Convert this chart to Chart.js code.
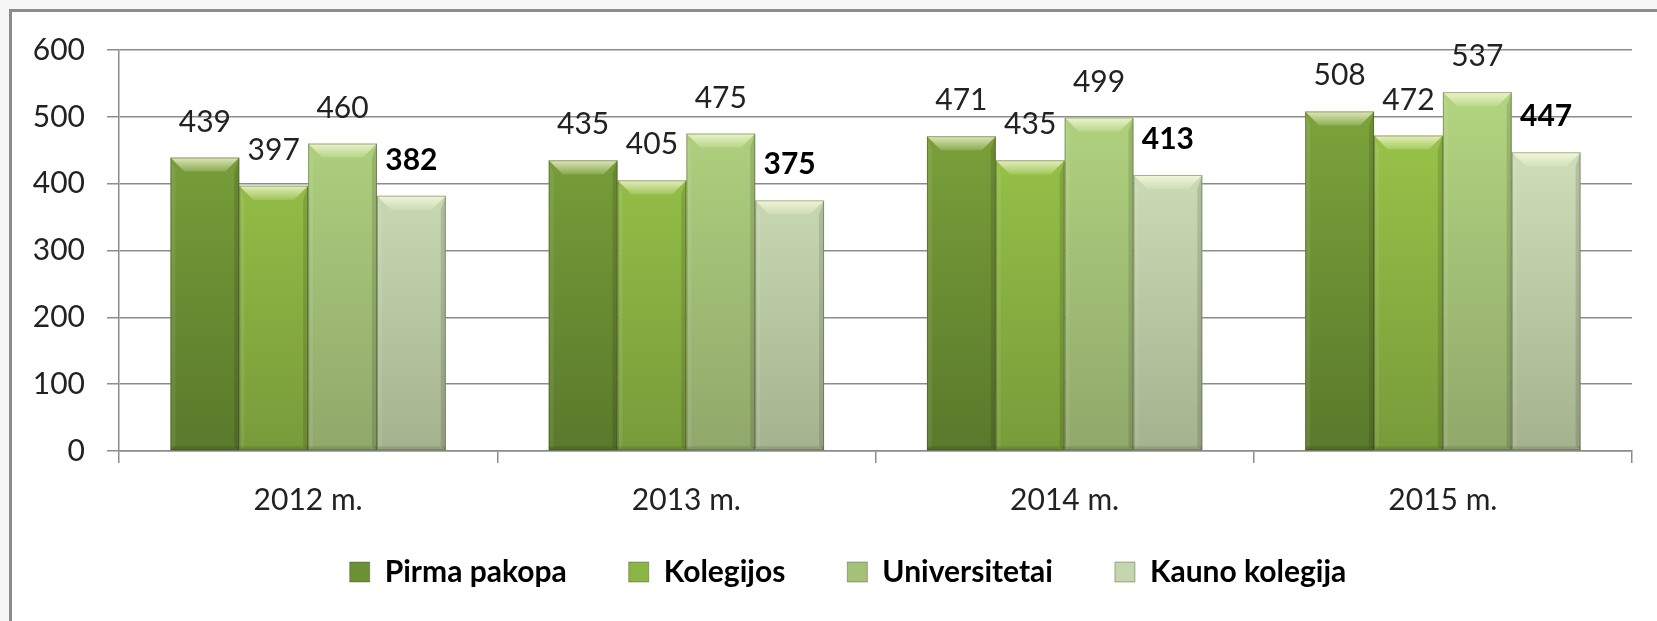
<!DOCTYPE html>
<html>
<head>
<meta charset="utf-8">
<script src="https://cdn.jsdelivr.net/npm/chart.js@4.4.1/dist/chart.umd.min.js"></script>
<style>
  html, body { margin: 0; padding: 0; background: #f6f6f6; }
  #wrap { position: relative; width: 1657px; height: 621px; overflow: hidden; background: #f6f6f6; }
  #frame { position: absolute; left: 9px; top: 9px; width: 1700px; height: 700px; background: #ffffff;
           border-left: 3px solid #8c8c8c; border-top: 3px solid #8c8c8c; box-sizing: border-box; }
  #c { position: absolute; left: 0; top: 0; }
</style>
</head>
<body>
<div id="wrap">
  <div id="frame"></div>
  <canvas id="c" width="1657" height="621"></canvas>
</div>
<script>
// ---- data ----
const categories = ["2012 m.", "2013 m.", "2014 m.", "2015 m."];
const seriesNames = ["Pirma pakopa", "Kolegijos", "Universitetai", "Kauno kolegija"];
const pirmaPakopa = [439, 435, 471, 508];
const kolegijos = [397, 405, 435, 472];
const universitetai = [460, 475, 499, 537];
const kaunoKolegija = [382, 375, 413, 447];
const yTicks = [0, 100, 200, 300, 400, 500, 600];

const seriesValues = [pirmaPakopa, kolegijos, universitetai, kaunoKolegija];
const topColors = ["#7ea53c", "#9cc84a", "#b2d57f", "#d6e7c2"];
const bottomColors = ["#5a792b", "#789b3a", "#90a86b", "#a4b38e"];
const midColors = ["#6c9134", "#8ab443", "#a3c277", "#c4d6ad"];
const boldLabel = [false, false, false, true];

const FONT = "Lato, 'Open Sans', sans-serif";

function gradFor(i) {
  return function (ctx) {
    const chart = ctx.chart;
    const area = chart.chartArea;
    if (!area) return midColors[i];
    const g = chart.ctx.createLinearGradient(0, area.top + 40, 0, area.bottom);
    g.addColorStop(0, topColors[i]);
    g.addColorStop(1, bottomColors[i]);
    return g;
  };
}

const bevelPlugin = {
  id: 'bevel',
  afterDatasetsDraw(chart) {
    const ctx = chart.ctx;
    chart.data.datasets.forEach((ds, di) => {
      const meta = chart.getDatasetMeta(di);
      meta.data.forEach(el => {
        const L = el.x - el.width / 2, R = el.x + el.width / 2;
        const T = el.y, B = el.base;
        const b = 14;
        ctx.save();
        let g = ctx.createLinearGradient(0, T, 0, T + b);
        g.addColorStop(0, 'rgba(255,255,230,0.75)');
        g.addColorStop(1, 'rgba(255,255,220,0.15)');
        ctx.fillStyle = g;
        ctx.beginPath();
        ctx.moveTo(L, T); ctx.lineTo(R, T); ctx.lineTo(R - b, T + b); ctx.lineTo(L + b, T + b); ctx.closePath();
        ctx.fill();
        ctx.fillStyle = 'rgba(255,255,255,0.08)';
        ctx.beginPath();
        ctx.moveTo(L, T); ctx.lineTo(L + 5, T + b); ctx.lineTo(L + 5, B - 4); ctx.lineTo(L, B); ctx.closePath();
        ctx.fill();
        ctx.fillStyle = 'rgba(0,0,0,0.12)';
        ctx.beginPath();
        ctx.moveTo(R, T); ctx.lineTo(R - 5, T + b); ctx.lineTo(R - 5, B - 4); ctx.lineTo(R, B); ctx.closePath();
        ctx.fill();
        ctx.fillStyle = 'rgba(0,0,0,0.10)';
        ctx.fillRect(L, B - 4, R - L, 4);
        ctx.strokeStyle = 'rgba(40,50,20,0.35)';
        ctx.lineWidth = 1;
        ctx.strokeRect(L + 0.5, T + 0.5, R - L - 1, B - T - 1);
        ctx.restore();
      });
    });
  }
};

const labelPlugin = {
  id: 'valueLabels',
  afterDatasetsDraw(chart) {
    const ctx = chart.ctx;
    chart.data.datasets.forEach((ds, di) => {
      const meta = chart.getDatasetMeta(di);
      meta.data.forEach((el, i) => {
        ctx.save();
        ctx.font = (boldLabel[di] ? 'bold ' : '') + '30px ' + FONT;
        ctx.fillStyle = boldLabel[di] ? '#000000' : '#222222';
        ctx.textAlign = 'center';
        ctx.textBaseline = 'alphabetic';
        ctx.fillText(String(ds.data[i]), el.x, el.y - 26);
        ctx.restore();
      });
    });
  }
};

// Legend padding also adds vertical room; let the x-axis label area overlap it,
// and nudge the legend row right to match the reference's centring.
const layoutTweak = {
  id: 'layoutTweak',
  afterLayout(chart) {
    const lg = chart.legend;
    if (lg) { lg.left += 32; lg.right += 32; }
    const x = chart.scales.x;
    x.bottom += 60; x.height += 60;
  }
};

const datasets = seriesNames.map((name, i) => ({
  label: name,
  data: seriesValues[i],
  backgroundColor: gradFor(i),
  borderWidth: 0,
  categoryPercentage: 0.728,
  barPercentage: 1.0
}));

new Chart(document.getElementById('c'), {
  type: 'bar',
  data: { labels: categories, datasets },
  options: {
    responsive: false,
    animation: false,
    layout: { padding: { top: 50, right: 25, bottom: 24, left: 0 } },
    plugins: {
      tooltip: { enabled: false },
      legend: {
        position: 'bottom',
        labels: {
          font: { family: FONT, size: 30, weight: 'bold' },
          color: '#000000',
          boxWidth: 20,
          boxHeight: 20,
          padding: 62,
          generateLabels(chart) {
            return seriesNames.map((n, i) => ({
              text: n,
              fillStyle: midColors[i],
              strokeStyle: 'rgba(60,70,40,0.4)',
              lineWidth: 1,
              datasetIndex: i,
              hidden: false
            }));
          }
        }
      }
    },
    scales: {
      x: {
        grid: { display: true, drawOnChartArea: false, drawTicks: true, tickLength: 12, color: '#8c8c8c', lineWidth: 1.5, offset: true },
        border: { display: true, color: '#8c8c8c', width: 1.5 },
        ticks: { font: { family: FONT, size: 30 }, color: '#222222', padding: 19 },
        afterFit(scale) { scale.height = 44; }
      },
      y: {
        min: 0, max: 600,
        afterBuildTicks(scale) { scale.ticks = yTicks.map(v => ({ value: v })); },
        grid: { color: '#8c8c8c', lineWidth: 1.5, tickLength: 12, drawTicks: true },
        border: { display: true, color: '#8c8c8c', width: 1.5 },
        ticks: { font: { family: FONT, size: 30 }, color: '#222222', padding: 22 },
        afterFit(scale) { scale.width = 119; }
      }
    }
  },
  plugins: [bevelPlugin, labelPlugin, layoutTweak]
});
</script>
</body>
</html>
